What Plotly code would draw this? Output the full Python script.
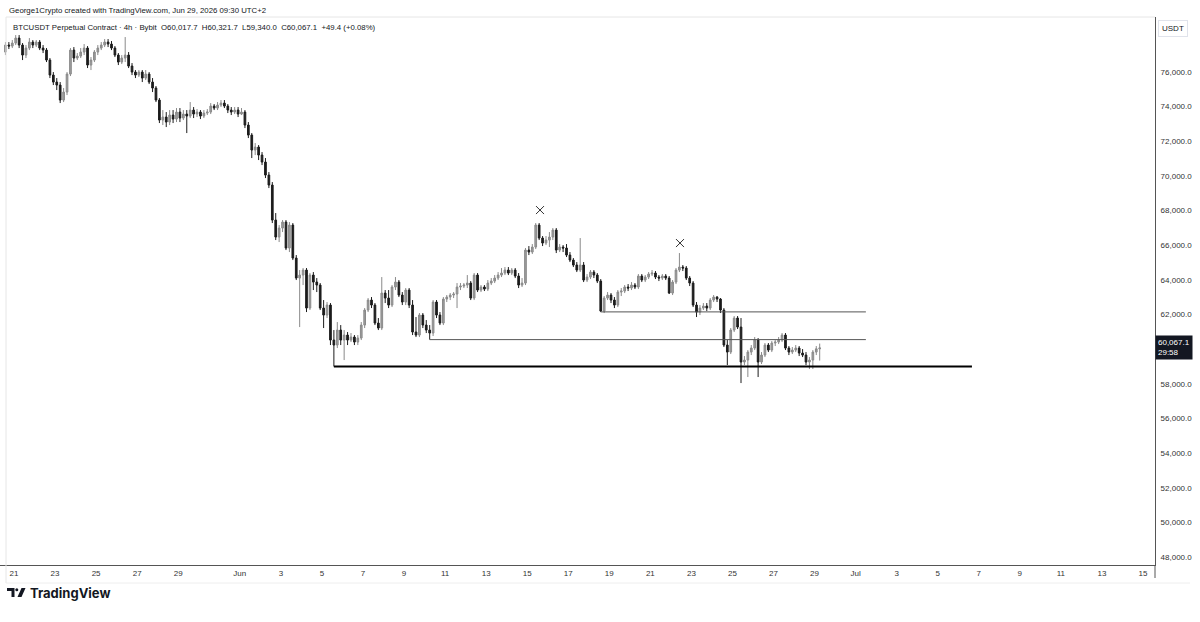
import pandas as pd
import plotly.graph_objects as go

# ---------------- data ----------------
start_time = "2026-05-20 14:00"   # first 4h candle
first_open = 77151

closes = [
    77555, 77497, 77671, 77959, 77555, 76978, 77382, 77728, 77555, 77728,
    77382, 77266, 76689, 75823, 75419, 75246, 74380, 74842, 75881, 77266,
    76805, 76920, 77151, 77382, 76401, 76689, 77151, 77382, 77555, 77728,
    77613, 77382, 76978, 76574, 76805, 76978, 76343, 75996, 75823, 75996,
    75650, 75881, 75419, 75073, 74380, 73225, 73399, 73110, 73514, 73283,
    73687, 73341, 73572, 73456, 73803, 73572, 73687, 73456, 73630, 73687,
    74034, 73918, 74091, 74207, 74034, 73803, 73687, 73803, 73572, 73687,
    72937, 72359, 71493, 71667, 71205, 70801, 70050, 69473, 67452, 66471,
    66991, 67337, 65836, 67164, 65259, 64104, 64277, 64566, 62372, 64277,
    63873, 63700, 62372, 61968, 62545, 60525, 60236, 61102, 60525, 60813,
    60525, 60698, 60409, 60640, 61391, 62257, 62834, 62545, 61506, 61218,
    63238, 62949, 62545, 63585, 63873, 63123, 62719, 63411, 62545, 60987,
    60813, 61968, 61391, 61102, 60929, 62719, 61968, 61506, 62892, 63007,
    63123, 63181, 63585, 63642, 63700, 63815, 62949, 64277, 63411, 63585,
    63469, 63815, 63931, 64104, 64277, 64393, 64566, 64393, 64566, 64220,
    63700, 63815, 65720, 65605, 65894, 67164, 66413, 66125, 66298, 66471,
    66875, 65720, 65894, 65836, 65432, 65143, 64855, 64566, 64855, 63989,
    64162, 64450, 64277, 63931, 62199, 62949, 63123, 62834, 62545, 63296,
    63354, 63585, 63527, 63700, 63585, 64220, 63989, 64162, 64335, 64393,
    64162, 64104, 64220, 64104, 63238, 63873, 64566, 64739, 64681, 64104,
    63815, 62545, 62141, 62372, 62488, 62372, 62834, 63007, 62892, 62257,
    60236, 59832, 61102, 61795, 61275, 59255, 59370, 59832, 60063, 60525,
    59255, 59659, 60236, 59947, 60352, 60409, 60525, 60813, 60063, 59832,
    59947, 60063, 59774, 59659, 59255, 59370, 59832, 60017.7, 60067.1,
]

highs = [
    77728, 77728, 77844, 78132, 78132, 77671, 77555, 77959, 77844, 77844,
    77844, 77555, 77382, 76805, 75996, 75650, 75419, 75073, 75996, 77382,
    77440, 77093, 77382, 77613, 77497, 76862, 77266, 77555, 77728, 77902,
    77902, 77786, 77497, 77093, 76978, 78017, 77151, 76516, 76112, 76112,
    76112, 76112, 75996, 75650, 75188, 74495, 73803, 73687, 73803, 73803,
    73918, 73918, 73803, 73803, 74265, 73976, 73860, 73803, 73803, 73860,
    74207, 74149, 74265, 74380, 74380, 74149, 73976, 73976, 73976, 73918,
    73803, 73110, 72475, 71898, 71782, 71378, 71032, 70223, 69646, 67857,
    67164, 67452, 67452, 67337, 67279, 65432, 64566, 64681, 64681, 64393,
    64450, 64104, 63815, 62834, 62719, 62661, 61102, 61564, 61391, 61102,
    60987, 60929, 60813, 60813, 61564, 62372, 62949, 63007, 62661, 61795,
    64162, 63411, 63411, 63700, 64162, 63989, 63296, 63527, 63527, 62834,
    61853, 62084, 62084, 61679, 61391, 62834, 62834, 62141, 63007, 63123,
    63238, 63296, 63815, 63815, 63815, 64277, 63931, 64393, 64393, 63700,
    63700, 63989, 64104, 64277, 64450, 64681, 64739, 64739, 64681, 64681,
    64393, 64104, 65836, 65951, 66067, 67279, 67279, 66529, 66529, 66760,
    66991, 66991, 66067, 66009, 66067, 65605, 65259, 65028, 66413, 65028,
    64335, 64566, 64566, 64393, 64046, 63065, 63296, 63238, 63007, 63411,
    63527, 63700, 63758, 63873, 63815, 64335, 64335, 64277, 64450, 64566,
    64508, 64277, 64335, 64335, 64220, 63989, 64681, 65547, 64855, 64797,
    64220, 63931, 62719, 62545, 62661, 62661, 62949, 63123, 63065, 62949,
    62372, 60525, 61218, 61910, 61910, 61795, 59601, 59947, 60236, 60698,
    60640, 59832, 60352, 60352, 60467, 60525, 60698, 60929, 60929, 60178,
    60121, 60236, 60178, 60005, 59832, 59543, 59947, 60178, 60321.7,
]

lows = [
    76978, 77324, 77382, 77555, 77382, 76689, 76805, 77266, 77382, 77440,
    77266, 77093, 76574, 75650, 75246, 74957, 74207, 74265, 74669, 75766,
    76574, 76689, 76805, 76978, 76227, 76112, 76574, 76978, 77266, 77440,
    77440, 77266, 76862, 76401, 76458, 76574, 76227, 75823, 75650, 75708,
    75419, 75535, 75304, 74842, 74265, 73052, 72937, 72821, 72937, 73052,
    73110, 73110, 73225, 72475, 73341, 73341, 73399, 73283, 73341, 73514,
    73572, 73803, 73803, 73976, 73918, 73630, 73514, 73572, 73399, 73514,
    72764, 72186, 71032, 71205, 70916, 70628, 69877, 69300, 67279, 66298,
    66182, 66760, 65720, 65605, 65143, 63989, 61275, 63700, 62141, 62257,
    63411, 63296, 62257, 61218, 61795, 60236, 59000, 60063, 60236, 59370,
    60236, 60409, 60236, 60236, 60525, 61218, 62141, 62372, 61391, 61102,
    61102, 62661, 62372, 62430, 63411, 63007, 62545, 62545, 62372, 60813,
    60698, 60698, 61218, 60929, 60550, 60756, 61795, 61391, 61391, 62719,
    62834, 62949, 62372, 63411, 63527, 63527, 62834, 62834, 63296, 63296,
    63354, 63354, 63700, 63815, 63989, 64162, 64277, 64277, 64277, 64104,
    63527, 63585, 63700, 65432, 65490, 65778, 66298, 65951, 66009, 65894,
    66298, 65547, 65605, 65605, 65316, 65028, 64739, 64450, 64450, 63873,
    63873, 64046, 64104, 63815, 62141, 62084, 62834, 62661, 62372, 62430,
    63065, 63238, 63354, 63411, 63469, 63469, 63873, 63873, 64046, 64220,
    64046, 63931, 63989, 63989, 63181, 63123, 63758, 64450, 64508, 63989,
    63642, 62430, 61853, 61968, 62257, 62199, 62257, 62719, 62719, 62084,
    60121, 59082, 59717, 60987, 61160, 58042, 59082, 58389, 59659, 59947,
    58389, 59140, 59543, 59832, 59832, 60178, 60294, 60409, 59947, 59659,
    59717, 59832, 59601, 59543, 59082, 58851, 58851, 59659, 59340,
]

opens = [first_open] + closes[:-1]
times = pd.date_range(start_time, periods=len(closes), freq="4h")

# drawn horizontal levels
level_prices = [59000, 60550, 62150]
level_starts = ["2026-06-05 14:00", "2026-06-10 06:00", "2026-06-18 14:00"]
level_ends = ["2026-07-06 16:00", "2026-07-01 12:00", "2026-07-01 12:00"]

# "x" marks above the two highs
mark_times = ["2026-06-15 15:00", "2026-06-22 10:40"]
mark_prices = [68030, 66125]

# 60,000.0 is hidden behind the last-price label in the reference
y_tick_values = [48000, 50000, 52000, 54000, 56000, 58000,
                 62000, 64000, 66000, 68000, 70000, 72000, 74000, 76000]
y_tick_labels = [f"{v:,.1f}" for v in y_tick_values]

x_tick_dates = [
    "2026-05-21", "2026-05-23", "2026-05-25", "2026-05-27", "2026-05-29",
    "2026-06-01", "2026-06-03", "2026-06-05", "2026-06-07", "2026-06-09",
    "2026-06-11", "2026-06-13", "2026-06-15", "2026-06-17", "2026-06-19",
    "2026-06-21", "2026-06-23", "2026-06-25", "2026-06-27", "2026-06-29",
    "2026-07-01", "2026-07-03", "2026-07-05", "2026-07-07", "2026-07-09",
    "2026-07-11", "2026-07-13", "2026-07-15",
]
x_tick_labels = [
    "21", "23", "25", "27", "29", "Jun", "3", "5", "7", "9", "11", "13", "15",
    "17", "19", "21", "23", "25", "27", "29", "Jul", "3", "5", "7", "9", "11",
    "13", "15",
]

x_range = ["2026-05-20 07:38", "2026-07-15 14:02"]
y_range = [47538, 79175]

header_text = "George1Crypto created with TradingView.com, Jun 29, 2026 09:30 UTC+2"
legend_text = ("BTCUSDT Perpetual Contract · 4h · Bybit  O60,017.7  H60,321.7  "
               "L59,340.0  C60,067.1  +49.4 (+0.08%)")
countdown = "29:58"

# ---------------- figure ----------------
W, H = 1200, 622
ML, MR, MT, MB = 0, 45, 17, 57
PW, PH = W - ML - MR, H - MT - MB


def px(x):
    return (x - ML) / PW


def py(y):
    return (H - MB - y) / PH


FONT = "Liberation Sans"
TXT = "#131722"

fig = go.Figure()

fig.add_trace(go.Candlestick(
    x=times, open=opens, high=highs, low=lows, close=closes,
    increasing=dict(line=dict(color="#8a8a8a", width=1), fillcolor="#9e9e9e"),
    decreasing=dict(line=dict(color="#1c1c1c", width=1), fillcolor="#1c1c1c"),
    whiskerwidth=0, hoverinfo="skip", showlegend=False,
))

level_colors = ["#000000", "#555555", "#555555"]
level_widths = [2, 1, 1]
for p, s, e, c, w in zip(level_prices, level_starts, level_ends, level_colors, level_widths):
    fig.add_trace(go.Scatter(
        x=[s, e], y=[p, p], mode="lines",
        line=dict(color=c, width=w), hoverinfo="skip", showlegend=False,
    ))

fig.add_trace(go.Scatter(
    x=mark_times, y=mark_prices, mode="markers",
    marker=dict(symbol="x-thin", size=8, line=dict(width=1, color="#333333")),
    hoverinfo="skip", showlegend=False,
))

annotations = [
    dict(text=header_text, xref="paper", yref="paper", x=px(7), y=py(10),
         xanchor="left", yanchor="middle", showarrow=False,
         font=dict(family=FONT, size=7.8, color=TXT)),
    dict(text=legend_text, xref="paper", yref="paper", x=px(11), y=py(27),
         xanchor="left", yanchor="middle", showarrow=False,
         font=dict(family=FONT, size=7.8, color=TXT)),
    dict(text="USDT", xref="paper", yref="paper", x=px(1158), y=py(28),
         xanchor="left", yanchor="middle", showarrow=False,
         bordercolor="#e0e3eb", borderwidth=1, borderpad=3,
         font=dict(family=FONT, size=8, color=TXT)),
    dict(text=f"{closes[-1]:,.1f}<br>{countdown}", xref="paper", yref="y",
         x=px(1155), y=closes[-1], xanchor="left", yanchor="middle",
         align="left", showarrow=False, bgcolor="#131722", borderpad=2,
         font=dict(family=FONT, size=8, color="#ffffff")),
    dict(text="<b>TradingView</b>", xref="paper", yref="paper", x=px(28), y=py(593),
         xanchor="left", yanchor="middle", showarrow=False,
         font=dict(family="Inter", size=13, color=TXT)),
]

shapes = [
    # faint pane borders
    dict(type="line", xref="paper", yref="paper", x0=px(6), x1=px(6), y0=py(583), y1=1,
         line=dict(color="#e6e6e6", width=1)),
    dict(type="line", xref="paper", yref="paper", x0=px(6), x1=1, y0=1, y1=1,
         line=dict(color="#e6e6e6", width=1)),
    dict(type="line", xref="paper", yref="paper", x0=px(6), x1=px(1190), y0=py(583), y1=py(583),
         line=dict(color="#eeeeee", width=1)),
    # axis line extension below the time axis
    dict(type="line", xref="paper", yref="paper", x0=1, x1=1, y0=0, y1=py(578),
         line=dict(color="#555555", width=1)),
    # TradingView logo
    dict(type="path", xref="paper", yref="paper", fillcolor=TXT, line=dict(width=0),
         path=(f"M {px(7)},{py(588)} L {px(14.5)},{py(588)} L {px(14.5)},{py(597)} "
               f"L {px(11.5)},{py(597)} L {px(11.5)},{py(591)} L {px(7)},{py(591)} Z")),
    dict(type="circle", xref="paper", yref="paper", fillcolor=TXT, line=dict(width=0),
         x0=px(15.3), x1=px(18.3), y0=py(591.2), y1=py(588.2)),
    dict(type="path", xref="paper", yref="paper", fillcolor=TXT, line=dict(width=0),
         path=(f"M {px(21.5)},{py(588)} L {px(25.5)},{py(588)} L {px(21.5)},{py(597)} "
               f"L {px(17.5)},{py(597)} Z")),
]

fig.update_layout(
    width=W, height=H,
    margin=dict(l=ML, r=MR, t=MT, b=MB),
    paper_bgcolor="#ffffff", plot_bgcolor="#ffffff",
    showlegend=False,
    annotations=annotations,
    shapes=shapes,
    xaxis=dict(
        type="date", range=x_range, rangeslider=dict(visible=False),
        tickmode="array", tickvals=x_tick_dates, ticktext=x_tick_labels,
        tickfont=dict(family=FONT, size=8, color="#333333"),
        showgrid=False, zeroline=False, ticks="",
        showline=True, linecolor="#555555", linewidth=1,
        fixedrange=True,
    ),
    yaxis=dict(
        side="right", range=y_range,
        tickmode="array", tickvals=y_tick_values, ticktext=y_tick_labels,
        tickfont=dict(family=FONT, size=8, color="#333333"),
        showgrid=False, zeroline=False, ticks="",
        showline=True, linecolor="#555555", linewidth=1,
        ticklabelstandoff=3, fixedrange=True,
    ),
)

fig.write_html("out.html", config={"displayModeBar": False})
